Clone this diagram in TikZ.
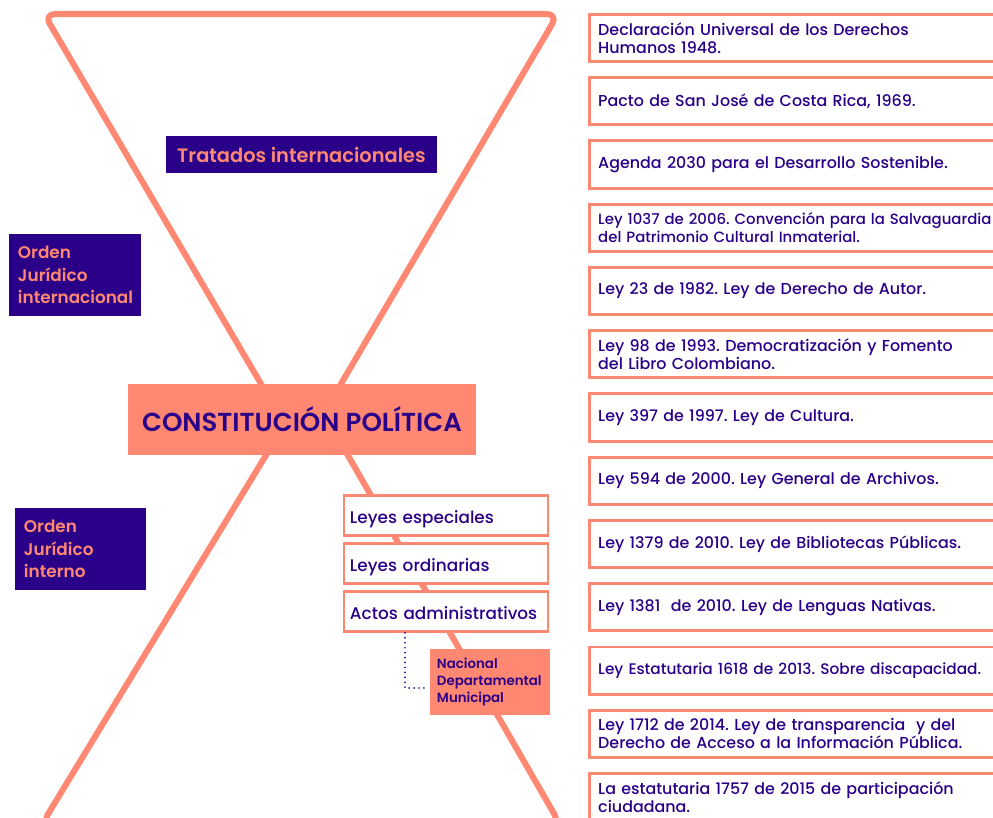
\documentclass[tikz,border=0pt]{standalone}
\usepackage{fontspec}
\setmainfont{Poppins}[UprightFont=* Medium, BoldFont=* SemiBold]
\usetikzlibrary{positioning}
\definecolor{coral}{HTML}{FF8872}
\definecolor{indigo}{HTML}{2A0088}
\frenchspacing

\begin{document}
\begin{tikzpicture}[x=0.025cm,y=-0.025cm,
  every node/.style={inner sep=0pt},
  darkbox/.style={fill=indigo, text=coral, font=\bfseries},
  lawbox/.style={draw=coral, line width=2pt, fill=white, text=indigo, anchor=west,
    minimum height=1.18cm, text width=11cm, inner xsep=0.22cm, align=left,
    font=\fontsize{11.3}{13}\selectfont},
  levelbox/.style={draw=coral, line width=2pt, fill=white, text=indigo,
    minimum height=1.0cm, text width=4.8cm, inner xsep=0.15cm, align=left,
    text height=0.5cm, text depth=0.1cm, font=\fontsize{12}{14}\selectfont},
  hourglass/.style={draw=coral, line width=4.3pt, rounded corners=8pt, line join=round},
  dotline/.style={draw=indigo, line width=1.3pt, dash pattern=on 0.01pt off 3.5pt, line cap=round}]
\useasboundingbox (0,0) rectangle (993,817);
\clip (0,0) rectangle (993,817);

% hourglass
\draw [hourglass] (301,452) -- (44,14) -- (558,14) -- cycle;
\draw [hourglass] (308,386) -- (42,824) -- (560,824) -- cycle;

% left column
\node (tratados) [darkbox, minimum width=6.775cm, minimum height=0.925cm,
  font=\bfseries\fontsize{13.8}{16}\selectfont] at (301.5,154.5) {Tratados internacionales};
\node (ordenint) [darkbox, minimum width=3.3cm, minimum height=2.05cm, text width=2.85cm,
  align=left, font=\bfseries\fontsize{12}{16}\selectfont] at (75,275)
  {Orden\\ Jurídico\\ internacional};
\node (ordenloc) [darkbox, minimum width=3.275cm, minimum height=2.05cm, text width=2.825cm,
  align=left, font=\bfseries\fontsize{12}{16}\selectfont] at (80.5,549)
  {Orden\\ Jurídico\\ interno};
\node (cp) [fill=coral, text=indigo, minimum width=8.7cm, minimum height=1.775cm,
  font=\bfseries\fontsize{18.5}{20}\selectfont] at (302,419.5) {CONSTITUCIÓN POLÍTICA};

% levels
\node (especiales) [levelbox] at (446,515.5) {Leyes especiales};
\node (ordinarias) [levelbox] at (446,563.5) {Leyes ordinarias};
\node (actos) [levelbox] at (446,611.5) {Actos administrativos};
\node (niveles) [fill=coral, text=indigo, minimum width=3cm, minimum height=1.65cm,
  text width=2.65cm, align=left, font=\bfseries\fontsize{9.5}{12.4}\selectfont]
  at (490,682) {Nacional\\ Departamental\\ Municipal};
\coordinate (dx) at (405,0);
\coordinate (dend) at (425,688);
\draw [dotline] (actos.south -| dx) |- (dend);

% right column
\node (d1) [lawbox] at (588,38) {Declaración Universal de los Derechos\\ Humanos 1948.};
\node (d2) [lawbox] at (588,101.25) {Pacto de San José de Costa Rica, 1969.};
\node (d3) [lawbox] at (588,164.5) {Agenda 2030 para el Desarrollo Sostenible.};
\node (d4) [lawbox, font=\fontsize{10.6}{12.8}\selectfont] at (588,227.75)
  {Ley 1037 de 2006. Convención para la Salvaguardia\\ del Patrimonio Cultural Inmaterial.};
\node (d5) [lawbox] at (588,291) {Ley 23 de 1982. Ley de Derecho de Autor.};
\node (d6) [lawbox] at (588,354.25) {Ley 98 de 1993. Democratización y Fomento\\ del Libro Colombiano.};
\node (d7) [lawbox] at (588,417.5) {Ley 397 de 1997. Ley de Cultura.};
\node (d8) [lawbox] at (588,480.75) {Ley 594 de 2000. Ley General de Archivos.};
\node (d9) [lawbox] at (588,544) {Ley 1379 de 2010. Ley de Bibliotecas Públicas.};
\node (d10) [lawbox] at (588,607.25) {Ley 1381~ de 2010. Ley de Lenguas Nativas.};
\node (d11) [lawbox, font=\fontsize{10.9}{13}\selectfont] at (588,670.5)
  {Ley Estatutaria 1618 de 2013. Sobre discapacidad.};
\node (d12) [lawbox] at (588,733.75)
  {Ley 1712 de 2014. Ley de transparencia~ y del\\ Derecho de Acceso a la Información Pública.};
\node (d13) [lawbox] at (588,797) {La estatutaria 1757 de 2015 de participación\\ ciudadana.};
\end{tikzpicture}
\end{document}
